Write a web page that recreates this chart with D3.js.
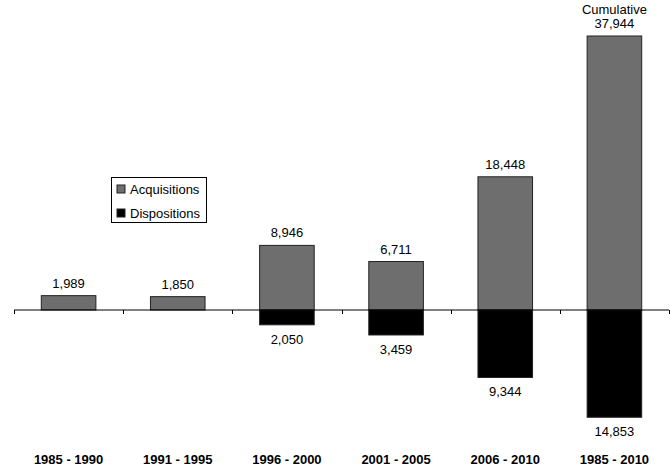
<!DOCTYPE html>
<html>
<head>
<meta charset="utf-8">
<script src="https://cdn.jsdelivr.net/npm/d3@7"></script>
<style>
  body { margin: 0; background: #fff; }
  svg { display: block; }
</style>
</head>
<body>
<script>
const periods = ["1985 - 1990", "1991 - 1995", "1996 - 2000", "2001 - 2005", "2006 - 2010", "1985 - 2010"];
const acquisitions = [1989, 1850, 8946, 6711, 18448, 37944];
const dispositions = [0, 0, 2050, 3459, 9344, 14853];
const keys = ["Acquisitions", "Dispositions"];

const width = 670, height = 467;
const baseY = 310;

const svg = d3.select("body").append("svg")
    .attr("width", width)
    .attr("height", height)
    .attr("font-family", "'Liberation Sans', Arial, sans-serif");

const x = d3.scaleBand()
    .domain(periods)
    .range([14, 669])
    .paddingInner(0)
    .paddingOuter(0);

const y = d3.scaleLinear()
    .domain([0, 37944])
    .range([baseY, 36]);

const z = d3.scaleOrdinal()
    .domain(keys)
    .range(["#6e6e6e", "#000000"]);

const data = periods.map((p, i) => ({ period: p, acq: acquisitions[i], disp: dispositions[i] }));
const barW = x.bandwidth() / 2;

// acquisitions above the axis
svg.append("g")
  .selectAll("rect")
  .data(data)
  .enter().append("rect")
    .attr("x", d => x(d.period) + (x.bandwidth() - barW) / 2)
    .attr("y", d => y(d.acq))
    .attr("width", barW)
    .attr("height", d => y(0) - y(d.acq))
    .attr("fill", z("Acquisitions"))
    .attr("stroke", "#222")
    .attr("stroke-width", 1);

// dispositions below it
svg.append("g")
  .selectAll("rect")
  .data(data.filter(d => d.disp > 0))
  .enter().append("rect")
    .attr("x", d => x(d.period) + (x.bandwidth() - barW) / 2)
    .attr("y", y(0))
    .attr("width", barW)
    .attr("height", d => y(-d.disp) - y(0))
    .attr("fill", z("Dispositions"))
    .attr("stroke", "#222")
    .attr("stroke-width", 1);

// axis line with ticks between the categories
const axis = svg.append("g").attr("transform", `translate(0,${baseY})`);
axis.append("line")
    .attr("x1", x.range()[0]).attr("x2", x.range()[1])
    .attr("stroke", "#000");
axis.selectAll(".tick")
  .data(periods.map(p => x(p)).concat([x.range()[1]]))
  .enter().append("line")
    .attr("x1", d => Math.round(d) + 0.5).attr("x2", d => Math.round(d) + 0.5)
    .attr("y1", 0).attr("y2", 4)
    .attr("stroke", "#000");

svg.append("g")
    .attr("font-weight", "bold")
    .attr("font-size", 13)
    .attr("text-anchor", "middle")
  .selectAll("text")
  .data(periods)
  .enter().append("text")
    .attr("x", d => x(d) + x.bandwidth() / 2)
    .attr("y", 464)
    .text(d => d);

const fmt = d3.format(",");

// value labels
svg.append("g")
    .attr("font-size", 13)
    .attr("text-anchor", "middle")
  .selectAll("text")
  .data(data)
  .enter().append("text")
    .attr("x", d => x(d.period) + x.bandwidth() / 2)
    .attr("y", d => y(d.acq) - 8)
    .text(d => fmt(d.acq));

svg.append("g")
    .attr("font-size", 13)
    .attr("text-anchor", "middle")
  .selectAll("text")
  .data(data.filter(d => d.disp > 0))
  .enter().append("text")
    .attr("x", d => x(d.period) + x.bandwidth() / 2)
    .attr("y", d => y(-d.disp) + 19)
    .text(d => fmt(d.disp));

svg.append("text")
    .attr("x", x("1985 - 2010") + x.bandwidth() / 2)
    .attr("y", y(37944) - 22)
    .attr("font-size", 13)
    .attr("text-anchor", "middle")
    .text("Cumulative");

// legend
const legend = svg.append("g").attr("transform", "translate(111,177)");
legend.append("rect")
    .attr("x", 0.5).attr("y", 0.5)
    .attr("width", 95).attr("height", 45)
    .attr("fill", "#fff")
    .attr("stroke", "#000");

const item = legend.selectAll(".item")
  .data(keys)
  .enter().append("g")
    .attr("transform", (d, i) => `translate(6,${8 + i * 24})`);

item.append("rect")
    .attr("width", 8).attr("height", 8)
    .attr("fill", z)
    .attr("stroke", "#222");

item.append("text")
    .attr("x", 13)
    .attr("y", 4)
    .attr("dy", "0.35em")
    .attr("font-size", 13)
    .text(d => d);
</script>
</body>
</html>
